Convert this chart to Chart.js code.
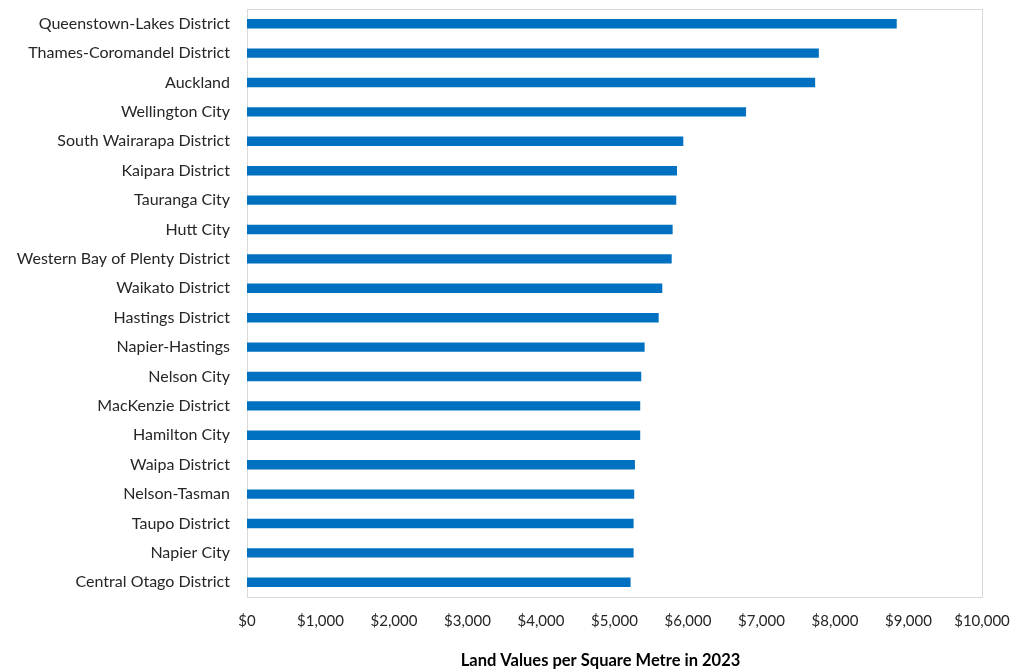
<!DOCTYPE html>
<html>
<head>
<meta charset="utf-8">
<script src="https://cdn.jsdelivr.net/npm/chart.js@4/dist/chart.umd.min.js"></script>
<style>
html,body{margin:0;padding:0;background:#fff;}
#wrap{width:1019px;height:671px;}
</style>
</head>
<body>
<div id="wrap"><canvas id="c" width="1019" height="671"></canvas></div>
<script>
const categories = [
  "Queenstown-Lakes District","Thames-Coromandel District","Auckland","Wellington City",
  "South Wairarapa District","Kaipara District","Tauranga City","Hutt City",
  "Western Bay of Plenty District","Waikato District","Hastings District","Napier-Hastings",
  "Nelson City","MacKenzie District","Hamilton City","Waipa District","Nelson-Tasman",
  "Taupo District","Napier City","Central Otago District"
];
const landValues = [
  8840, 7780, 7730, 6790,
  5936, 5850, 5840, 5791,
  5778, 5650, 5601, 5410,
  5364, 5350, 5350, 5278, 5268,
  5260, 5260, 5219
];
const xTickMin = 0, xTickMax = 10000, xTickStep = 1000;
const axisTitle = "Land Values per Square Metre in 2023";

const FONT = "Lato, 'Liberation Sans', sans-serif";

const borderPlugin = {
  id: 'plotBorder',
  beforeDatasetsDraw(chart) {
    const a = chart.chartArea, ctx = chart.ctx;
    ctx.save();
    ctx.strokeStyle = '#D9D9D9';
    ctx.lineWidth = 1;
    ctx.strokeRect(Math.round(a.left) + 0.5, Math.round(a.top) + 0.5,
                   Math.round(a.right - a.left), Math.round(a.bottom - a.top));
    ctx.restore();
  }
};

const axisTitlePlugin = {
  id: 'axisTitleText',
  afterDraw(chart) {
    const ctx = chart.ctx, a = chart.chartArea;
    ctx.save();
    ctx.fillStyle = '#000';
    ctx.font = 'bold 16.5px ' + FONT;
    ctx.textAlign = 'center';
    ctx.textBaseline = 'middle';
    ctx.fillText(axisTitle, (a.left + a.right) / 2 - 14, 661);
    ctx.restore();
  }
};

new Chart(document.getElementById('c'), {
  type: 'bar',
  data: {
    labels: categories,
    datasets: [{
      data: landValues,
      backgroundColor: '#0070C0',
      borderWidth: 0,
      categoryPercentage: 1.0,
      barPercentage: 0.32
    }]
  },
  options: {
    indexAxis: 'y',
    responsive: false,
    animation: false,
    devicePixelRatio: 1,
    layout: { padding: { left: 0, right: 37, top: 9, bottom: 0 } },
    plugins: { legend: { display: false }, tooltip: { enabled: false } },
    scales: {
      x: {
        min: xTickMin, max: xTickMax,
        grid: { display: false, drawTicks: false },
        border: { display: false },
        ticks: {
          stepSize: xTickStep,
          color: '#262626',
          font: { family: FONT, size: 15 },
          padding: 15,
          maxRotation: 0,
          callback: v => '$' + Number(v).toLocaleString('en-US')
        },
        afterFit(s) { s.height = 74; s.paddingLeft = 0; s.paddingRight = 0; }
      },
      y: {
        grid: { display: false, drawTicks: false },
        border: { display: false },
        ticks: {
          color: '#262626',
          font: { family: FONT, size: 16 },
          padding: 17,
          autoSkip: false
        },
        afterFit(s) { s.width = 247; s.paddingTop = 0; s.paddingBottom = 0; }
      }
    }
  },
  plugins: [borderPlugin, axisTitlePlugin]
});
</script>
</body>
</html>
